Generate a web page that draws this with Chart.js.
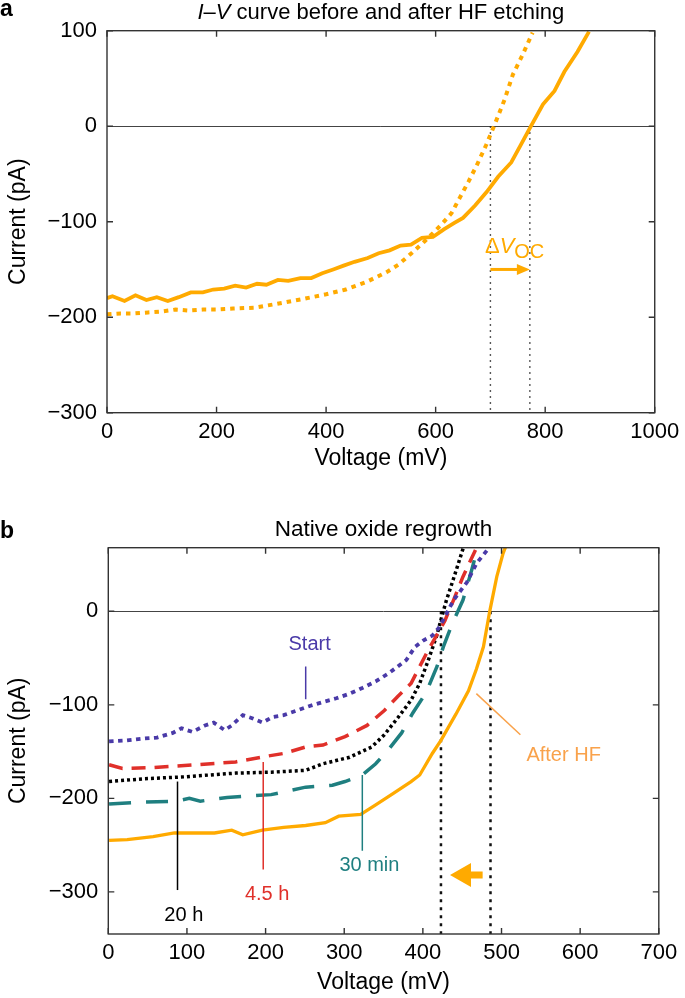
<!DOCTYPE html>
<html>
<head>
<meta charset="utf-8">
<title>I-V curves</title>
<script src="https://cdn.jsdelivr.net/npm/chart.js@4.4.1/dist/chart.umd.min.js"></script>
<style>
  body { margin: 0; background: #fff; }
  #wrap { position: relative; width: 685px; height: 998px; }
  .panel { position: absolute; left: 0; width: 685px; }
  #panelA { top: 0; height: 490px; }
  #panelB { top: 490px; height: 508px; }
</style>
</head>
<body>
<div id="wrap">
  <div class="panel" id="panelA"><canvas id="chartA"></canvas></div>
  <div class="panel" id="panelB"><canvas id="chartB"></canvas></div>
</div>
<script>
// ---- panel a: before / after HF etching ----
const afterHF_V = [0, 10, 32, 52, 72, 91, 111, 131, 153, 175, 194, 214, 234, 254, 274, 291, 312, 331, 353, 373, 393, 413, 432, 452, 476, 496, 516, 536, 555, 575, 595, 615, 635, 650, 672, 693, 714, 738, 756, 774, 796, 817, 835, 859, 880];
const afterHF_I = [-180, -178, -183, -177, -182, -179, -183, -179, -174, -174, -171, -170, -167, -169, -165, -166, -161, -162, -159, -159, -154, -150, -146, -142, -138, -133, -130, -125, -124, -117, -116, -108, -101, -96, -83, -69, -53, -38, -19, 0, 23, 37, 57, 78, 99];
const beforeHF_V = [0, 25, 50, 75, 100, 125, 150, 175, 200, 230, 270, 310, 357, 400, 436, 474, 510, 532, 556, 579, 595, 612, 629, 644, 660, 675, 692, 708, 726, 741, 759, 777];
const beforeHF_I = [-197, -196, -196, -195, -194, -192, -193, -192, -192, -191, -190, -186, -181, -176, -171, -163, -153, -145, -133, -121, -112, -102, -91, -75, -58, -41, -20, 2, 28, 54, 75, 98];
const vocA = [700, 772];
const xTicksA = [0, 200, 400, 600, 800, 1000];
const yTicksA = [-300, -200, -100, 0, 100];

// ---- panel b: native oxide regrowth ----
const start_V = [1, 23, 46, 62, 82, 93, 107, 123, 134, 148, 157, 171, 182, 196, 209, 223, 240, 257, 273, 290, 307, 323, 340, 357, 368, 379, 390, 401, 412, 420, 428, 439, 456, 468, 488];
const start_I = [-139, -138, -136, -135, -130, -125, -129, -122, -119, -127, -122, -111, -114, -119, -113, -111, -106, -101, -97, -93, -88, -82, -75, -66, -59, -52, -38, -31, -26, -18, -6, 12, 31, 51, 72];
const h45_V = [1, 18, 57, 112, 162, 201, 223, 251, 273, 301, 329, 351, 368, 385, 396, 407, 418, 428, 439, 451, 471];
const h45_I = [-164, -168, -167, -164, -161, -155, -152, -145, -143, -134, -122, -106, -91, -77, -59, -41, -25, -10, 12, 37, 73];
const h20_V = [1, 46, 96, 162, 207, 251, 273, 307, 335, 351, 368, 385, 396, 407, 418, 423, 430, 439, 453];
const h20_I = [-182, -179, -177, -173, -172, -170, -163, -156, -145, -132, -114, -95, -77, -52, -25, -9, 12, 35, 72];
const min30_V = [1, 46, 86, 103, 117, 151, 207, 251, 285, 301, 323, 340, 357, 373, 387, 404, 418, 426, 437, 451, 462, 471];
const min30_I = [-206, -204, -203, -200, -203, -199, -196, -188, -186, -182, -175, -163, -147, -130, -109, -87, -59, -38, -14, 12, 44, 72];
const hf_V = [1, 24, 57, 84, 113, 135, 157, 171, 196, 223, 251, 276, 293, 321, 340, 362, 385, 396, 412, 423, 442, 458, 468, 477, 485, 494, 502, 508];
const hf_I = [-245, -244, -241, -237, -237, -237, -234, -239, -234, -231, -229, -226, -219, -217, -207, -195, -182, -175, -152, -138, -110, -85, -62, -38, 0, 37, 62, 75];
const vocB = [423, 486];
const xTicksB = [0, 100, 200, 300, 400, 500, 600, 700];
const yTicksB = [-300, -200, -100, 0];

const FONT = '"Liberation Sans", Arial, Helvetica, sans-serif';
const ORANGE = '#ffaa00';
const LIGHT_ORANGE = '#f9a24b';
const PURPLE = '#4a3aa8';
const RED = '#e0302a';
const TEAL = '#1f7f80';

const pts = (xs, ys) => xs.map((v, i) => ({x: v, y: ys[i]}));
const fmt = v => String(v).replace('-', '\u2212');

function drawRich(ctx, segs, x, y, align) {
    let w = 0;
    segs.forEach(s => { ctx.font = s.font; w += ctx.measureText(s.t).width; });
    let cx = align === 'center' ? x - w / 2 : x;
    ctx.textAlign = 'left';
    ctx.textBaseline = 'alphabetic';
    segs.forEach(s => {
        ctx.font = s.font;
        ctx.fillStyle = s.color || '#000';
        ctx.fillText(s.t, cx, y + (s.dy || 0));
        cx += ctx.measureText(s.t).width;
    });
}

// box with inward ticks on all four sides, like the original figure
const framePlugin = {
    id: 'frame',
    afterDatasetsDraw(chart) {
        const {ctx, chartArea: a, scales: {x, y}} = chart;
        ctx.save();
        ctx.strokeStyle = '#333';
        ctx.lineWidth = 1.4;
        ctx.strokeRect(a.left, a.top, a.right - a.left, a.bottom - a.top);
        ctx.beginPath();
        x.ticks.forEach(t => {
            const px = x.getPixelForValue(t.value);
            ctx.moveTo(px, a.bottom); ctx.lineTo(px, a.bottom - 6);
            ctx.moveTo(px, a.top); ctx.lineTo(px, a.top + 6);
        });
        y.ticks.forEach(t => {
            const py = y.getPixelForValue(t.value);
            ctx.moveTo(a.left, py); ctx.lineTo(a.left + 6, py);
            ctx.moveTo(a.right, py); ctx.lineTo(a.right - 6, py);
        });
        ctx.stroke();
        ctx.restore();
    }
};

const headerPlugin = (letter, letterY, segs, titleY) => ({
    id: 'header',
    afterDraw(chart) {
        const {ctx, chartArea: a} = chart;
        ctx.save();
        drawRich(ctx, [{t: letter, font: 'bold 23px ' + FONT}], 0, letterY, 'left');
        drawRich(ctx, segs, (a.left + a.right) / 2, titleY, 'center');
        ctx.restore();
    }
});

// labels, pointer lines and arrows, placed in data units
const notesPlugin = items => ({
    id: 'notes',
    afterDatasetsDraw(chart) {
        const {ctx, scales: {x, y}} = chart;
        const px = v => x.getPixelForValue(v), py = v => y.getPixelForValue(v);
        ctx.save();
        items.forEach(n => {
            if (n.type === 'line') {
                ctx.strokeStyle = n.color; ctx.lineWidth = n.width || 1.5;
                ctx.beginPath();
                ctx.moveTo(px(n.x1), py(n.y1)); ctx.lineTo(px(n.x2), py(n.y2));
                ctx.stroke();
            } else if (n.type === 'text') {
                ctx.font = '20px ' + FONT; ctx.fillStyle = n.color;
                ctx.textAlign = 'center'; ctx.textBaseline = 'middle';
                ctx.fillText(n.text, px(n.x), py(n.y));
            } else if (n.type === 'rich') {
                drawRich(ctx, n.segs, px(n.x), py(n.y), 'left');
            } else if (n.type === 'arrow') {
                const x1 = px(n.x1), x2 = px(n.x2), yy = py(n.y);
                ctx.strokeStyle = n.color; ctx.fillStyle = n.color; ctx.lineWidth = 3;
                ctx.beginPath(); ctx.moveTo(x1, yy); ctx.lineTo(x2 - 10, yy); ctx.stroke();
                ctx.beginPath(); ctx.moveTo(x2, yy); ctx.lineTo(x2 - 13, yy - 5.5); ctx.lineTo(x2 - 13, yy + 5.5); ctx.closePath(); ctx.fill();
            } else if (n.type === 'block') {
                const tip = px(n.tip), tail = px(n.tail), yy = py(n.y);
                ctx.fillStyle = n.color;
                ctx.beginPath();
                ctx.moveTo(tip, yy);
                ctx.lineTo(tip + 21, yy - 12); ctx.lineTo(tip + 21, yy - 3.5);
                ctx.lineTo(tail, yy - 3.5); ctx.lineTo(tail, yy + 3.5);
                ctx.lineTo(tip + 21, yy + 3.5); ctx.lineTo(tip + 21, yy + 12);
                ctx.closePath(); ctx.fill();
            }
        });
        ctx.restore();
    }
});

function axes(xMin, xMax, xTicks, yMin, yMax, yTicks, yWidth, xHeight, titleBottom) {
    const tickFont = {family: FONT, size: 22};
    const titleFont = {family: FONT, size: 23};
    return {
        x: {
            type: 'linear', min: xMin, max: xMax,
            afterBuildTicks: s => { s.ticks = xTicks.map(v => ({value: v})); },
            afterFit: s => { s.height = xHeight; },
            grid: {display: false, drawTicks: false}, border: {display: false},
            ticks: {padding: 5.8, font: tickFont, color: '#000', maxRotation: 0, autoSkip: false, callback: fmt},
            title: {display: true, text: 'Voltage (mV)', font: titleFont, color: '#000', padding: {top: 0, bottom: titleBottom}}
        },
        y: {
            min: yMin, max: yMax,
            afterBuildTicks: s => { s.ticks = yTicks.map(v => ({value: v})); },
            afterFit: s => { s.width = yWidth; },
            grid: {drawTicks: false, lineWidth: 1, color: c => (c.tick && c.tick.value === 0) ? '#444' : 'rgba(0,0,0,0)'},
            border: {display: false},
            ticks: {padding: 10, font: tickFont, color: '#000', autoSkip: false, callback: fmt},
            title: {display: true, text: 'Current (pA)', font: titleFont, color: '#000', padding: {top: 5, bottom: 0}}
        }
    };
}

const line = (data, color, width, dash) => ({
    data, borderColor: color, backgroundColor: color, borderWidth: width,
    borderDash: dash || [], pointRadius: 0, tension: 0, fill: false
});

const common = {
    responsive: true, maintainAspectRatio: false, animation: false,
    plugins: {legend: {display: false}, tooltip: {enabled: false}}
};

new Chart(document.getElementById('chartA'), {
    type: 'line',
    data: {
        datasets: [
            line(pts(afterHF_V, afterHF_I), ORANGE, 3.8),
            line(pts(beforeHF_V, beforeHF_I), ORANGE, 4, [4.5, 5]),
            line(pts([vocA[0], vocA[0]], [0, -300]), '#222', 1.4, [1.5, 4.5]),
            line(pts([vocA[1], vocA[1]], [0, -300]), '#222', 1.4, [1.5, 4.5])
        ]
    },
    options: {
        ...common,
        layout: {padding: {top: 30.7, right: 27, left: 0, bottom: 0}},
        scales: axes(0, 1000, xTicksA, -300, 100, yTicksA, 107, 490 - 412.7, 17.7)
    },
    plugins: [
        framePlugin,
        headerPlugin('a', 15.5, [
            {t: 'I', font: 'italic 22px ' + FONT},
            {t: '\u2013', font: '22px ' + FONT},
            {t: 'V', font: 'italic 22px ' + FONT},
            {t: ' curve before and after HF etching', font: '22px ' + FONT}
        ], 18.5),
        notesPlugin([
            {type: 'rich', x: 690, y: -133, segs: [
                {t: '\u0394', font: '22px ' + FONT, color: ORANGE},
                {t: 'V', font: 'italic 22px ' + FONT, color: ORANGE},
                {t: 'OC', font: '20px ' + FONT, color: ORANGE, dy: 5}
            ]},
            {type: 'arrow', x1: vocA[0], x2: vocA[1], y: -150, color: ORANGE}
        ])
    ]
});

new Chart(document.getElementById('chartB'), {
    type: 'line',
    data: {
        datasets: [
            line(pts(start_V, start_I), PURPLE, 3.8, [4.5, 4.5]),
            line(pts(h45_V, h45_I), RED, 3.5, [14, 9]),
            line(pts(h20_V, h20_I), '#000', 3.5, [3, 3]),
            line(pts(min30_V, min30_I), TEAL, 3.5, [22, 15]),
            line(pts(hf_V, hf_I), ORANGE, 3.3),
            line(pts([vocB[0], vocB[0]], [0, -345]), '#111', 2.5, [3, 5]),
            line(pts([vocB[1], vocB[1]], [0, -345]), '#111', 2.5, [3, 5])
        ]
    },
    options: {
        ...common,
        layout: {padding: {top: 57.7, right: 685 - 658.8, left: 0, bottom: 0}},
        scales: axes(0, 700, xTicksB, -345, 68, yTicksB, 108.3, 508 - 444, 1.2)
    },
    plugins: [
        framePlugin,
        headerPlugin('b', 48.3, [{t: 'Native oxide regrowth', font: '22.5px ' + FONT}], 46),
        notesPlugin([
            {type: 'text', text: 'Start', x: 256, y: -36, color: PURPLE},
            {type: 'line', x1: 251, y1: -59, x2: 251, y2: -94, color: PURPLE},
            {type: 'text', text: 'After HF', x: 579, y: -154, color: LIGHT_ORANGE},
            {type: 'line', x1: 468, y1: -88, x2: 524, y2: -132, color: LIGHT_ORANGE},
            {type: 'text', text: '20 h', x: 96, y: -325, color: '#000'},
            {type: 'line', x1: 88, y1: -182, x2: 88, y2: -298, color: '#000'},
            {type: 'text', text: '4.5 h', x: 202, y: -303, color: RED},
            {type: 'line', x1: 197, y1: -161, x2: 197, y2: -276, color: RED},
            {type: 'text', text: '30 min', x: 332, y: -272, color: TEAL},
            {type: 'line', x1: 323, y1: -175, x2: 323, y2: -256, color: TEAL},
            {type: 'block', tip: 434.5, tail: 476, y: -282, color: ORANGE}
        ])
    ]
});
</script>
</body>
</html>
